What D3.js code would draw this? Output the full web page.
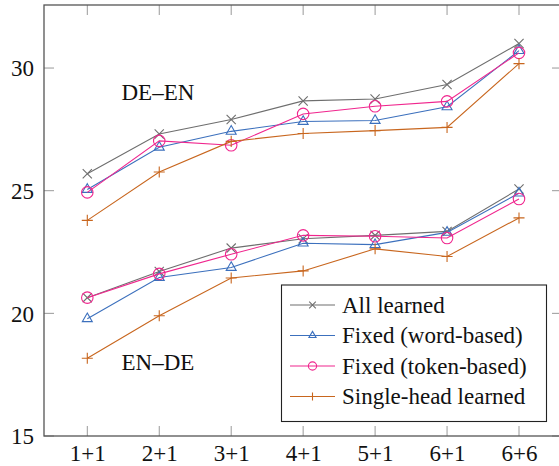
<!DOCTYPE html>
<html><head><meta charset="utf-8">
<script src="https://cdn.jsdelivr.net/npm/d3@7"></script>
<style>body{margin:0;background:#fff}svg{display:block}svg text{font-family:"Liberation Serif","Times New Roman",serif !important;}</style>
</head><body>
<script>
const categories = ["1+1","2+1","3+1","4+1","5+1","6+1","6+6"];
const yTicks = [15,20,25,30];
const seriesNames = ["All learned","Fixed (word-based)","Fixed (token-based)","Single-head learned"];
// DE–EN
const deEnAll    = [25.69,27.31,27.90,28.66,28.74,29.33,31.00];
const deEnWord   = [25.05,26.77,27.42,27.82,27.86,28.42,30.71];
const deEnToken  = [24.93,27.03,26.85,28.13,28.44,28.64,30.62];
const deEnSingle = [23.79,25.76,27.01,27.33,27.45,27.58,30.18];
// EN–DE
const enDeAll    = [20.64,21.71,22.66,23.04,23.18,23.34,25.07];
const enDeWord   = [19.78,21.46,21.87,22.86,22.80,23.30,24.90];
const enDeToken  = [20.64,21.61,22.41,23.18,23.14,23.07,24.66];
const enDeSingle = [18.17,19.90,21.44,21.73,22.63,22.32,23.89];

const W=559,H=466;
const L=44,R=562,T=5,B=436;
const FS=23;
const svg=d3.select("body").append("svg").attr("width",W).attr("height",H);
const font="'Liberation Serif','Times New Roman',serif";
const x=d3.scalePoint().domain(categories).range([87.3,519]);
const y=d3.scaleLinear().domain([15,32.57]).range([B,T]);

const colors=["#6e6e6e","#3c70bd","#f0268e","#c8661e"];
const shapes=["x","tri","circ","plus"];

// ticks (inward, both sides)
const tg=svg.append("g").attr("stroke","#999").attr("stroke-width",1);
categories.forEach(c=>{
  tg.append("line").attr("x1",x(c)).attr("x2",x(c)).attr("y1",B).attr("y2",B-10);
  tg.append("line").attr("x1",x(c)).attr("x2",x(c)).attr("y1",T).attr("y2",T+10);
});
yTicks.forEach(v=>{
  tg.append("line").attr("x1",L).attr("x2",L+10).attr("y1",y(v)).attr("y2",y(v));
  tg.append("line").attr("x1",R).attr("x2",R-10).attr("y1",y(v)).attr("y2",y(v));
});

// axes labels via d3 axes
const xa=svg.append("g").attr("transform",`translate(0,${B})`).call(d3.axisBottom(x).tickSize(0).tickPadding(9));
xa.select(".domain").remove();
xa.attr("font-family",font).attr("font-size",FS);
xa.selectAll("text").style("font-family",font).attr("font-size",FS).attr("fill","#111");
const ya=svg.append("g").attr("transform",`translate(${L},0)`).call(d3.axisLeft(y).tickValues(yTicks).tickSize(0).tickPadding(10));
ya.select(".domain").remove();
ya.attr("font-family",font).attr("font-size",FS);
ya.selectAll("text").style("font-family",font).attr("font-size",FS).attr("fill","#111").attr("dy","0.34em");

function marker(g,shape,cx,cy,col,s){
  if(shape==="x"){
    g.append("path").attr("d",`M${cx-s},${cy-s}L${cx+s},${cy+s}M${cx-s},${cy+s}L${cx+s},${cy-s}`).attr("stroke",col).attr("stroke-width",1.1).attr("fill","none");
  }else if(shape==="tri"){
    const r=s*1.25;
    g.append("path").attr("d",`M${cx},${cy-r}L${cx+r*0.866},${cy+r*0.5}L${cx-r*0.866},${cy+r*0.5}Z`).attr("stroke",col).attr("stroke-width",1.1).attr("fill","none");
  }else if(shape==="circ"){
    g.append("circle").attr("cx",cx).attr("cy",cy).attr("r",s*1.25).attr("stroke",col).attr("stroke-width",1.1).attr("fill","none");
  }else{
    const r=s*1.2;
    g.append("path").attr("d",`M${cx-r},${cy}L${cx+r},${cy}M${cx},${cy-r}L${cx},${cy+r}`).attr("stroke",col).attr("stroke-width",1.1).attr("fill","none");
  }
}

const groups=[[deEnAll,deEnWord,deEnToken,deEnSingle],[enDeAll,enDeWord,enDeToken,enDeSingle]];
const line=d3.line().x((d,i)=>x(categories[i])).y(d=>y(d));
const pg=svg.append("g");
groups.forEach(grp=>{
  grp.forEach((vals,si)=>{
    pg.append("path").datum(vals).attr("d",line).attr("fill","none").attr("stroke",colors[si]).attr("stroke-width",1.1);
    vals.forEach((v,i)=>marker(pg,shapes[si],x(categories[i]),y(v),colors[si],4.6));
  });
});

// spines
svg.append("rect").attr("x",L).attr("y",T).attr("width",R-L).attr("height",B-T).attr("fill","none").attr("stroke","#555").attr("stroke-width",1.3);

// group labels
svg.append("text").attr("x",121.5).attr("y",100).text("DE–EN").style("font-family",font).attr("font-size",FS).attr("fill","#111");
svg.append("text").attr("x",121.5).attr("y",370).text("EN–DE").style("font-family",font).attr("font-size",FS).attr("fill","#111");

// legend
const lg=svg.append("g");
lg.append("rect").attr("x",281.5).attr("y",285).attr("width",265).attr("height",136.5).attr("fill","#fff").attr("stroke","#222").attr("stroke-width",1.1);
const rows=[305,335.5,366,396.5];
seriesNames.forEach((n,i)=>{
  lg.append("line").attr("x1",290).attr("x2",335).attr("y1",rows[i]).attr("y2",rows[i]).attr("stroke",colors[i]).attr("stroke-width",1.1);
  marker(lg,shapes[i],312.5,rows[i],colors[i],3.3);
  lg.append("text").attr("x",342).attr("y",rows[i]).attr("dy","0.34em").text(n).style("font-family",font).attr("font-size",FS).attr("fill","#111");
});
</script>
</body></html>
